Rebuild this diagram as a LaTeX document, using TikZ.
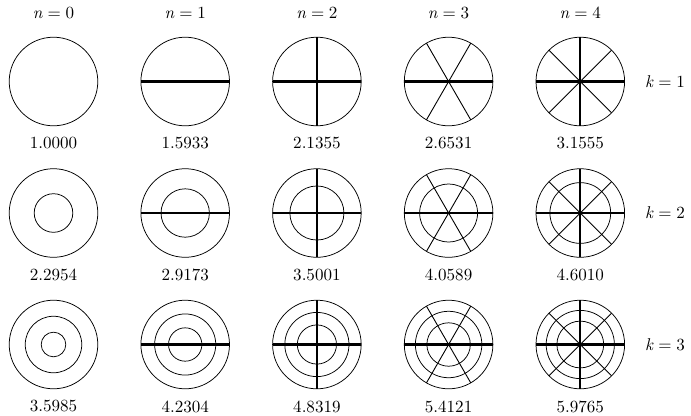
\documentclass[tikz,border=0pt]{standalone}
\usepackage{fontspec}
\setmainfont{lmroman10-regular.otf}[ItalicFont=lmroman10-italic.otf]
\newcommand\eqlab[2]{\textit{#1}\hspace{0.2778em}=\hspace{0.2778em}#2}
\newcommand\nodallines[1]{%
  \ifcase\n\relax
  \or
    \draw[nodal] (#1) ++(180:\R) -- ++(0:2*\R);
  \or
    \draw[nodal] (#1) ++(180:\R) -- ++(0:2*\R);
    \draw[nodal] (#1) ++(90:\R) -- ++(-90:2*\R);
  \or
    \draw[diag] (#1) ++(60:\R) -- ++(240:2*\R);
    \draw[diag] (#1) ++(120:\R) -- ++(300:2*\R);
    \draw[nodal] (#1) ++(180:\R) -- ++(0:2*\R);
  \or
    \draw[diag] (#1) ++(45:\R) -- ++(225:2*\R);
    \draw[diag] (#1) ++(135:\R) -- ++(315:2*\R);
    \draw[nodal] (#1) ++(180:\R) -- ++(0:2*\R);
    \draw[nodal] (#1) ++(90:\R) -- ++(-90:2*\R);
  \fi}
\begin{document}
\begin{tikzpicture}[x=1bp,y=-1bp,
  ring/.style={line width=0.75bp},
  nodal/.style={line width=2.3bp},
  diag/.style={line width=0.9bp},
  lbl/.style={font=\fontsize{17.1}{20}\selectfont, inner sep=0pt}]
\useasboundingbox (0,0) rectangle (691,415);
\def\R{44.3}
\foreach \n/\za/\zb/\zc/\fa/\fb/\fc in {
  0/2.4048/5.5201/8.6537/1.0000/2.2954/3.5985,
  1/3.8317/7.0156/10.1735/1.5933/2.9173/4.2304,
  2/5.1356/8.4172/11.6198/2.1355/3.5001/4.8319,
  3/6.3802/9.7610/13.0152/2.6531/4.0589/5.4121,
  4/7.5883/11.0647/14.3725/3.1555/4.6010/5.9765}{
  \pgfmathsetmacro\cx{53.5+131.7*\n}
  \node[lbl] (nl\n) at (\cx,13) {\eqlab{n}{\n}};
  \coordinate (o\n a) at (\cx,81.5);
  \coordinate (o\n b) at (\cx,213);
  \coordinate (o\n c) at (\cx,344.5);
  % k = 1
  \draw[ring] (o\n a) circle[radius=\R];
  \nodallines{o\n a}
  % k = 2
  \draw[ring] (o\n b) circle[radius=\R];
  \draw[ring] (o\n b) circle[radius={\R*\za/\zb}];
  \nodallines{o\n b}
  % k = 3
  \draw[ring] (o\n c) circle[radius=\R];
  \draw[ring] (o\n c) circle[radius={\R*\zb/\zc}];
  \draw[ring] (o\n c) circle[radius={\R*\za/\zc}];
  \nodallines{o\n c}
  % frequencies
  \node[lbl] (fa\n) at (\cx,143.5) {\fa};
  \node[lbl] (fb\n) at (\cx,275) {\fb};
  \node[lbl] (fc\n) at (\cx,406.5) {\fc};
}
\node[lbl] (k1) at (665,81.5) {\eqlab{k}{1}};
\node[lbl] (k2) at (665,213) {\eqlab{k}{2}};
\node[lbl] (k3) at (665,344.5) {\eqlab{k}{3}};
\end{tikzpicture}
\end{document}
